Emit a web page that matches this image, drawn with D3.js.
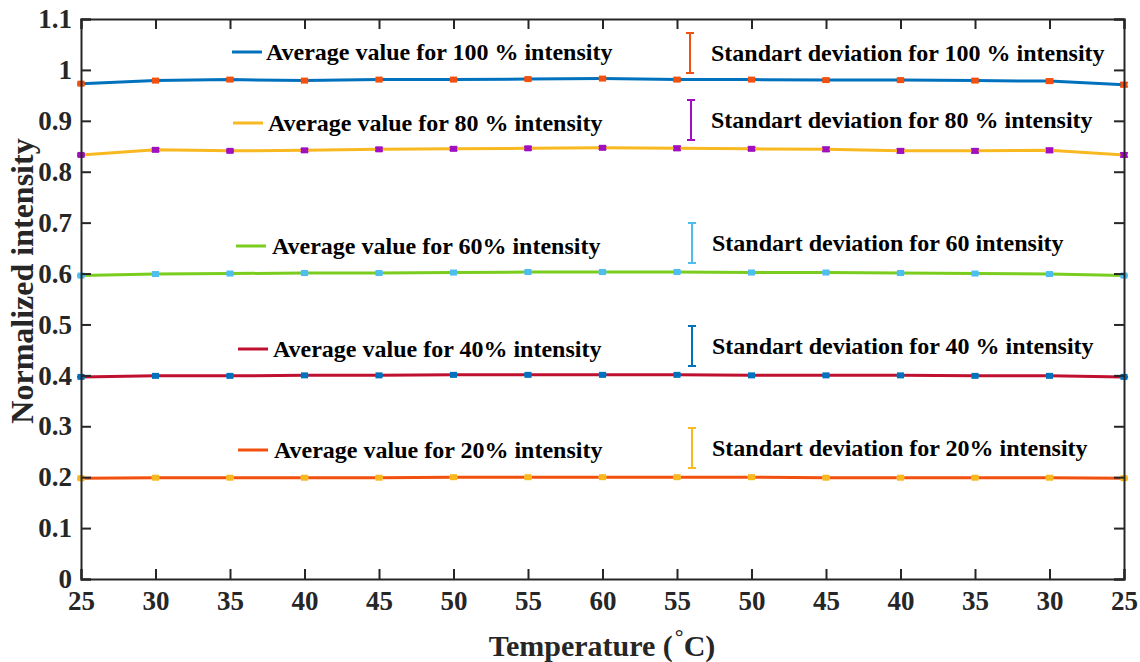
<!DOCTYPE html>
<html>
<head>
<meta charset="utf-8">
<script src="https://cdn.jsdelivr.net/npm/d3@7"></script>
<style>
  html, body { margin: 0; padding: 0; background: #fff; }
  svg text { font-family: "Liberation Serif", "Times New Roman", serif; font-weight: bold; }
</style>
</head>
<body>
<svg id="chart" width="1140" height="662"></svg>
<script>
// Temperature sweep: heating 25 -> 60 then cooling back to 25
const temperatures = ["25","30","35","40","45","50","55","60","55","50","45","40","35","30","25"];
const yTicks = [0, 0.1, 0.2, 0.3, 0.4, 0.5, 0.6, 0.7, 0.8, 0.9, 1, 1.1];

const mean100 = [0.973, 0.979, 0.981, 0.979, 0.981, 0.981, 0.982, 0.983, 0.981, 0.981, 0.980, 0.980, 0.979, 0.978, 0.971];
const mean80  = [0.833, 0.843, 0.841, 0.842, 0.844, 0.845, 0.846, 0.847, 0.846, 0.845, 0.844, 0.841, 0.841, 0.842, 0.833];
const mean60  = [0.596, 0.599, 0.600, 0.601, 0.601, 0.602, 0.603, 0.603, 0.603, 0.602, 0.602, 0.601, 0.600, 0.599, 0.596];
const mean40  = [0.397, 0.399, 0.399, 0.400, 0.400, 0.401, 0.401, 0.401, 0.401, 0.400, 0.400, 0.400, 0.399, 0.399, 0.397];
const mean20  = [0.198, 0.199, 0.199, 0.199, 0.199, 0.200, 0.200, 0.200, 0.200, 0.200, 0.199, 0.199, 0.199, 0.199, 0.198];

const std100 = [0.002, 0.002, 0.003, 0.002, 0.002, 0.002, 0.002, 0.002, 0.003, 0.002, 0.003, 0.003, 0.003, 0.004, 0.004];
const std80  = [0.002, 0.003, 0.002, 0.003, 0.003, 0.003, 0.003, 0.003, 0.004, 0.003, 0.004, 0.004, 0.004, 0.004, 0.004];
const std60  = [0.001, 0.001, 0.001, 0.001, 0.001, 0.001, 0.001, 0.001, 0.001, 0.001, 0.001, 0.001, 0.001, 0.001, 0.001];
const std40  = [0.001, 0.001, 0.001, 0.001, 0.001, 0.001, 0.001, 0.001, 0.001, 0.001, 0.001, 0.001, 0.001, 0.001, 0.001];
const std20  = [0.001, 0.001, 0.001, 0.001, 0.001, 0.001, 0.001, 0.001, 0.001, 0.001, 0.001, 0.001, 0.001, 0.001, 0.001];

const avgLabels = [
  "Average value for 100 % intensity",
  "Average value for 80 % intensity",
  "Average value for 60% intensity",
  "Average value for 40% intensity",
  "Average value for 20% intensity"
];
const stdLabels = [
  "Standart deviation for 100 % intensity",
  "Standart deviation for 80 % intensity",
  "Standart deviation for 60 intensity",
  "Standart deviation for 40 % intensity",
  "Standart deviation for 20% intensity"
];
const lineColors = ["#0072BD", "#F8B820", "#7ACD1E", "#C0102F", "#F2500F"];
const errColors  = ["#F2500F", "#A010C0", "#4DBEEE", "#0072BD", "#F8B820"];

const means = [mean100, mean80, mean60, mean40, mean20];
const stds  = [std100, std80, std60, std40, std20];

// Legend placement: line sample + label, error-bar sample + label
const legendRows = [
  {lx: 232, ly: 52,  tx: 266, ex: 690, ey: 53,  sx: 711},
  {lx: 233, ly: 123, tx: 268, ex: 691, ey: 120, sx: 711},
  {lx: 236, ly: 246, tx: 272, ex: 692, ey: 243, sx: 712},
  {lx: 238, ly: 349, tx: 273, ex: 692, ey: 346, sx: 712},
  {lx: 238, ly: 450, tx: 274, ex: 692, ey: 448, sx: 712}
];

const svg = d3.select("#chart");
const margin = {left: 81, right: 16, top: 19, bottom: 83};
const W = 1140, H = 662;
const x0 = margin.left, x1 = W - margin.right, y0 = H - margin.bottom, y1 = margin.top;

const x = d3.scalePoint().domain(d3.range(temperatures.length)).range([x0, x1]);
const y = d3.scaleLinear().domain([0, 1.1]).range([y0, y1]);

const axisColor = "#262626";

// series lines
const line = d3.line().x((d, i) => x(i)).y(d => y(d));
means.forEach((m, k) => {
  svg.append("path").datum(m)
    .attr("d", line)
    .attr("fill", "none")
    .attr("stroke", lineColors[k])
    .attr("stroke-width", 3);
});

// error bars with square markers
means.forEach((m, k) => {
  const g = svg.append("g");
  m.forEach((v, i) => {
    const cx = x(i), s = stds[k][i];
    g.append("line").attr("x1", cx).attr("x2", cx)
      .attr("y1", y(v - s)).attr("y2", y(v + s))
      .attr("stroke", errColors[k]).attr("stroke-width", 2);
    [v - s, v + s].forEach(e => {
      g.append("line").attr("x1", cx - 4).attr("x2", cx + 4)
        .attr("y1", y(e)).attr("y2", y(e))
        .attr("stroke", errColors[k]).attr("stroke-width", 1.5);
    });
    g.append("rect").attr("x", cx - 3.5).attr("y", y(v) - 3)
      .attr("width", 7).attr("height", 6)
      .attr("fill", errColors[k]);
  });
});

// axes box
const xAxisG = svg.append("g").attr("transform", `translate(0,${y0})`)
  .call(d3.axisBottom(x).tickFormat(i => temperatures[i]).tickSize(-10).tickPadding(12));
const xTopG = svg.append("g").attr("transform", `translate(0,${y1})`)
  .call(d3.axisTop(x).tickFormat("").tickSize(-10));
const yAxisG = svg.append("g").attr("transform", `translate(${x0},0)`)
  .call(d3.axisLeft(y).tickValues(yTicks).tickFormat(d => d3.format("~g")(d)).tickSize(-10).tickPadding(9));
const yRightG = svg.append("g").attr("transform", `translate(${x1},0)`)
  .call(d3.axisRight(y).tickValues(yTicks).tickFormat("").tickSize(-10));

[xAxisG, xTopG, yAxisG, yRightG].forEach(g => {
  g.select(".domain").attr("stroke", axisColor).attr("stroke-width", 2);
  g.selectAll(".tick line").attr("stroke", axisColor).attr("stroke-width", 2);
  g.selectAll(".tick text").attr("fill", axisColor)
    .style("font-family", "'Liberation Serif', serif").style("font-weight", "bold").style("font-size", "27px");
});
xAxisG.selectAll(".tick text").attr("dy", "0.71em");

// axis titles
svg.append("text")
  .attr("x", 602).attr("y", 656)
  .attr("text-anchor", "middle").attr("fill", axisColor)
  .style("font-size", "30px")
  .call(t => {
    t.append("tspan").text("Temperature (");
    t.append("tspan").text("°").attr("dy", -12).attr("dx", 2).style("font-size", "22px");
    t.append("tspan").text("C)").attr("dy", 12);
  });

svg.append("text")
  .attr("transform", `translate(33,${(y0 + y1) / 2 - 18}) rotate(-90)`)
  .attr("text-anchor", "middle").attr("fill", axisColor)
  .style("font-size", "32px")
  .text("Normalized intensity");

// legend
legendRows.forEach((r, k) => {
  svg.append("line").attr("x1", r.lx).attr("x2", r.lx + 30)
    .attr("y1", r.ly).attr("y2", r.ly)
    .attr("stroke", lineColors[k]).attr("stroke-width", 3);
  svg.append("text").attr("x", r.tx).attr("y", r.ly + 8)
    .attr("fill", "#000").style("font-size", "24px").text(avgLabels[k]);

  const ex = r.ex, top = r.ey - 20, bot = r.ey + 20;
  svg.append("line").attr("x1", ex).attr("x2", ex).attr("y1", top).attr("y2", bot)
    .attr("stroke", errColors[k]).attr("stroke-width", 2);
  [top, bot].forEach(e => svg.append("line").attr("x1", ex - 4).attr("x2", ex + 4)
    .attr("y1", e).attr("y2", e).attr("stroke", errColors[k]).attr("stroke-width", 2));
  svg.append("text").attr("x", r.sx).attr("y", r.ey + 8)
    .attr("fill", "#000").style("font-size", "24px").text(stdLabels[k]);
});
</script>
</body>
</html>
